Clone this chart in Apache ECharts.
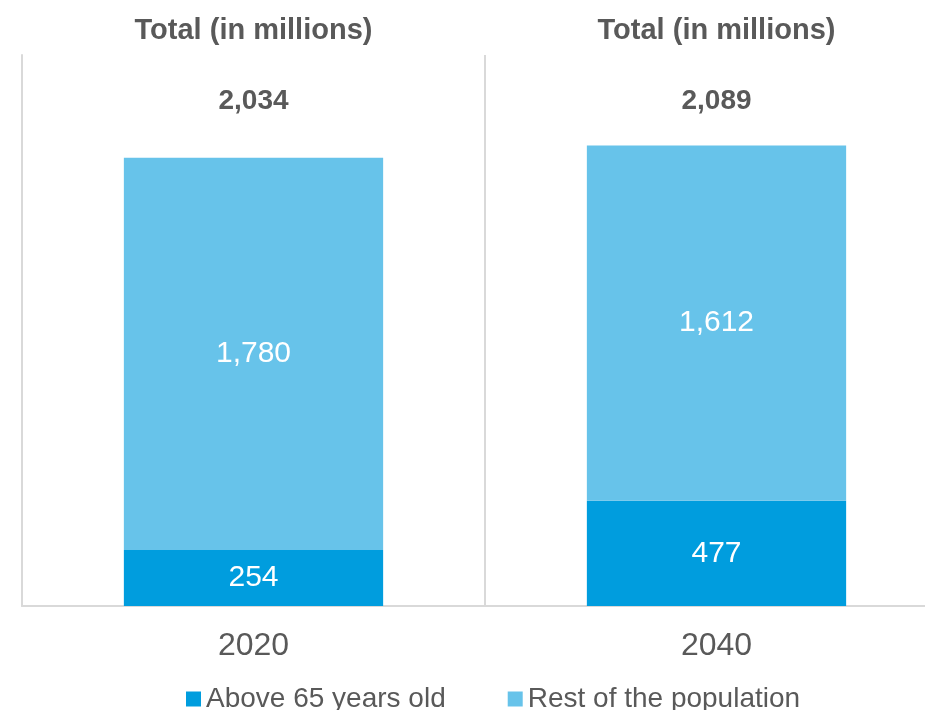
<!DOCTYPE html>
<html>
<head>
<meta charset="utf-8">
<script src="https://cdn.jsdelivr.net/npm/echarts@6/dist/echarts.min.js"></script>
<style>
  html, body { margin: 0; padding: 0; background: #fff; }
  #chart { width: 925px; height: 710px; }
</style>
</head>
<body>
<div id="chart"></div>
<script>
const years = ['2020', '2040'];
const above65 = [254, 477];
const restOfPopulation = [1780, 1612];
const seriesNames = ['Above 65 years old', 'Rest of the population'];
const headerText = 'Total (in millions)';

const totals = years.map((y, i) => above65[i] + restOfPopulation[i]);

const fmt = (v) => v.toLocaleString('en-US');
const textGray = '#595959';
const lineGray = '#D9D9D9';
const font = "'Liberation Sans', Arial, sans-serif";

const chart = echarts.init(document.getElementById('chart'));

const option = {
  animation: false,
  grid: {
    left: 22,
    top: 55,
    width: 926,
    height: 551,
    outerBoundsMode: 'none',
    containLabel: false
  },
  legend: {
    data: seriesNames,
    left: 181,
    top: 680,
    icon: 'rect',
    itemWidth: 15,
    itemHeight: 15,
    itemGap: 62,
    textStyle: { fontSize: 28, color: textGray, fontFamily: font }
  },
  xAxis: [
    {
      type: 'category',
      data: years,
      position: 'bottom',
      axisLine: { show: true, lineStyle: { color: lineGray, width: 2 } },
      axisTick: { show: false },
      splitLine: { show: true, interval: 0, lineStyle: { color: lineGray, width: 2 } },
      axisLabel: { fontSize: 32, color: textGray, fontFamily: font, margin: 24 }
    },
    {
      type: 'category',
      data: years,
      position: 'top',
      axisLine: { show: false },
      axisTick: { show: false },
      axisLabel: {
        formatter: () => headerText,
        fontSize: 29,
        fontWeight: 'bold',
        color: textGray,
        fontFamily: font,
        margin: 10
      }
    }
  ],
  yAxis: {
    type: 'value',
    min: 0,
    max: 2500,
    axisLine: { show: true, lineStyle: { color: lineGray, width: 2 } },
    axisTick: { show: false },
    axisLabel: { show: false },
    splitLine: { show: false }
  },
  series: [
    {
      name: seriesNames[0],
      type: 'bar',
      stack: 'total',
      barWidth: '56%',
      data: above65,
      itemStyle: { color: '#009DDE' },
      label: {
        show: true,
        position: 'inside',
        formatter: (p) => fmt(p.value),
        fontSize: 30,
        color: '#fff',
        fontFamily: font
      }
    },
    {
      name: seriesNames[1],
      type: 'bar',
      stack: 'total',
      barWidth: '56%',
      data: restOfPopulation,
      itemStyle: { color: '#67C3EA' },
      label: {
        show: true,
        position: 'inside',
        formatter: (p) => fmt(p.value),
        fontSize: 30,
        color: '#fff',
        fontFamily: font
      }
    },
    {
      name: 'totals',
      type: 'scatter',
      symbolSize: 0,
      silent: true,
      itemStyle: { opacity: 1 },
      // totals sit on one common line above the bars
      data: totals.map((t, i) => ({ value: [i, 2290], total: t })),
      label: {
        show: true,
        position: 'inside',
        formatter: (p) => fmt(p.data.total),
        fontSize: 28,
        fontWeight: 'bold',
        color: textGray,
        opacity: 1,
        fontFamily: font
      }
    }
  ]
};

chart.setOption(option);
</script>
</body>
</html>
